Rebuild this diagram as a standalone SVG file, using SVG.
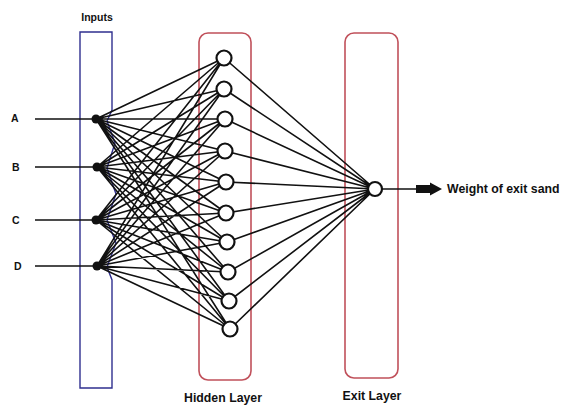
<svg xmlns="http://www.w3.org/2000/svg" width="565" height="408" viewBox="0 0 565 408">
  <style>
    .lbl { font-family: "Liberation Sans", Arial, sans-serif; font-weight: bold; font-size: 10.5px; fill: #111; }
    .big { font-size: 12.3px; }
    .edge { stroke: #111; stroke-width: 1.6; fill: none; }
    .neuron { fill: #fff; stroke: #111; stroke-width: 2.2; }
    .dot { fill: #111; }
  </style>
  <rect width="565" height="408" fill="#fff"/>

  <!-- layer frames -->
  <g id="inputs-box">
    <path d="M112,32 L80,32 L80,388 L112,388 L112,280 L107,267 L116,243 L107,220 L116,194 L107,168 L115,143 L107,121 L112,110 Z" fill="none" stroke="#2f2f8f" stroke-width="1.4"/>
    <text class="lbl" x="97" y="21" text-anchor="middle">Inputs</text>
  </g>
  <g id="hidden-box">
    <rect x="199" y="33" width="52" height="347" rx="9" fill="none" stroke="#c0505a" stroke-width="1.6"/>
    <text class="lbl big" x="223" y="402" text-anchor="middle">Hidden Layer</text>
  </g>
  <g id="exit-box">
    <rect x="345" y="33" width="53" height="345" rx="9" fill="none" stroke="#c0505a" stroke-width="1.6"/>
    <text class="lbl big" x="372" y="400" text-anchor="middle">Exit Layer</text>
  </g>

  <!-- connectors -->
  <g id="connectors">
    <!-- input lead lines -->
    <path class="edge" d="M35,119 H96 M35,167 H97 M35,220 H96 M35,266 H97"/>
    <!-- input to hidden -->
    <path class="edge" d="
      M96,119 L224,58 M96,119 L224,89 M96,119 L225,119 M96,119 L225,151 M96,119 L226,182
      M96,119 L226,213 M96,119 L227,242 M96,119 L228,272 M96,119 L229,301 M96,119 L230,329
      M97,167 L224,58 M97,167 L224,89 M97,167 L225,119 M97,167 L225,151 M97,167 L226,182
      M97,167 L226,213 M97,167 L227,242 M97,167 L228,272 M97,167 L229,301 M97,167 L230,329
      M96,220 L224,58 M96,220 L224,89 M96,220 L225,119 M96,220 L225,151 M96,220 L226,182
      M96,220 L226,213 M96,220 L227,242 M96,220 L228,272 M96,220 L229,301 M96,220 L230,329
      M97,266 L224,58 M97,266 L224,89 M97,266 L225,119 M97,266 L225,151 M97,266 L226,182
      M97,266 L226,213 M97,266 L227,242 M97,266 L228,272 M97,266 L229,301 M97,266 L230,329"/>
    <!-- hidden to exit -->
    <path class="edge" d="
      M224,58 L375,189 M224,89 L375,189 M225,119 L375,189 M225,151 L375,189 M226,182 L375,189
      M226,213 L375,189 M227,242 L375,189 M228,272 L375,189 M229,301 L375,189 M230,329 L375,189"/>
    <!-- output arrow -->
    <path class="edge" d="M382,189 H418"/>
    <path d="M416,185 H430 V182.5 L442,189 L430,195.5 V193 H416 Z" fill="#111"/>
  </g>

  <!-- input nodes -->
  <g id="input-A"><text class="lbl" x="11" y="122">A</text><circle class="dot" cx="96" cy="119" r="4.5"/></g>
  <g id="input-B"><text class="lbl" x="12" y="171">B</text><circle class="dot" cx="97" cy="167" r="4.5"/></g>
  <g id="input-C"><text class="lbl" x="12" y="224">C</text><circle class="dot" cx="96" cy="220" r="4.5"/></g>
  <g id="input-D"><text class="lbl" x="14" y="270">D</text><circle class="dot" cx="97" cy="266" r="4.5"/></g>

  <!-- hidden neurons -->
  <g id="h1"><circle class="neuron" cx="224" cy="58" r="7.5"/></g>
  <g id="h2"><circle class="neuron" cx="224" cy="89" r="7.5"/></g>
  <g id="h3"><circle class="neuron" cx="225" cy="119" r="7.5"/></g>
  <g id="h4"><circle class="neuron" cx="225" cy="151" r="7.5"/></g>
  <g id="h5"><circle class="neuron" cx="226" cy="182" r="7.5"/></g>
  <g id="h6"><circle class="neuron" cx="226" cy="213" r="7.5"/></g>
  <g id="h7"><circle class="neuron" cx="227" cy="242" r="7.5"/></g>
  <g id="h8"><circle class="neuron" cx="228" cy="272" r="7.5"/></g>
  <g id="h9"><circle class="neuron" cx="229" cy="301" r="7.5"/></g>
  <g id="h10"><circle class="neuron" cx="230" cy="329" r="7.5"/></g>

  <!-- output neuron -->
  <g id="output"><circle class="neuron" cx="375" cy="189" r="7"/></g>
  <g id="output-label"><text class="lbl big" x="447" y="193">Weight of exit sand</text></g>
</svg>
